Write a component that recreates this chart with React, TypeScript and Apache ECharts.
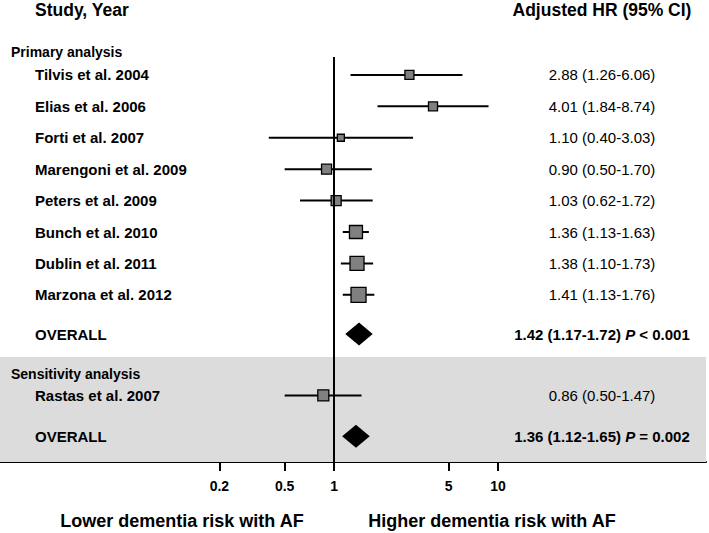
import React, { useEffect, useRef } from "react";
import * as echarts from "echarts";

// ---- data ----
const studies = [
  "Tilvis et al. 2004",
  "Elias et al. 2006",
  "Forti et al. 2007",
  "Marengoni et al. 2009",
  "Peters et al. 2009",
  "Bunch et al. 2010",
  "Dublin et al. 2011",
  "Marzona et al. 2012",
  "Rastas et al. 2007",
];
const studyRows = [0, 1, 2, 3, 4, 5, 6, 7, 10.2];
const hr = [2.88, 4.01, 1.1, 0.9, 1.03, 1.36, 1.38, 1.41, 0.86];
const ciLow = [1.26, 1.84, 0.4, 0.5, 0.62, 1.13, 1.1, 1.13, 0.5];
const ciHigh = [6.06, 8.74, 3.03, 1.7, 1.72, 1.63, 1.73, 1.76, 1.47];
const studyWeight = [9, 9, 7, 10, 10, 13, 14, 15, 11];

const pooledNames = ["OVERALL", "OVERALL"];
const pooledRows = [8.25, 11.5];
const pooledHr = [1.42, 1.36];
const pooledLow = [1.17, 1.12];
const pooledHigh = [1.72, 1.65];
const pooledP = ["< 0.001", "= 0.002"];

const sectionNames = ["Primary analysis", "Sensitivity analysis"];
const sectionRows = [-0.73, 9.53];
const shadeFromRow = 8.98;

const xTicks = [0.2, 0.5, 1, 5, 10];

const FONT = "'Liberation Sans', Arial, Helvetica, sans-serif";
const Y_MIN = -0.57;
const Y_MAX = 12.32;

const fmt = (v: number) => v.toFixed(2);

function txt(x: number, y: number, text: string, size: number, weight: string, align: string, rich?: any) {
  const style: any = {
    text,
    fill: "#000",
    fontFamily: FONT,
    fontSize: size,
    fontWeight: weight,
    align,
    textAlign: align,
    verticalAlign: "middle",
    textVerticalAlign: "middle",
  };
  if (rich) style.rich = rich;
  return { type: "text", x, y, style };
}

export default function App() {
  const ref = useRef<HTMLDivElement>(null);
  useEffect(() => {
    document.body.style.margin = "0";
    const chart = echarts.init(ref.current!, null, { renderer: "svg" });

    const richBold = {
      b: { fontFamily: FONT, fontSize: 15, fontWeight: "bold", fill: "#000" },
      i: { fontFamily: FONT, fontSize: 15, fontWeight: "bold", fontStyle: "italic", fill: "#000" },
    };

    const option: any = {
      animation: false,
      grid: { left: 0, right: 3, top: 57, bottom: 71 },
      xAxis: {
        type: "log",
        logBase: 10,
        min: 0.0092,
        max: 185,
        position: "bottom",
        axisLine: { show: true, onZero: false, lineStyle: { color: "#000", width: 2 } },
        axisTick: {
          show: true,
          customValues: xTicks,
          length: 9,
          lineStyle: { color: "#000", width: 2 },
        },
        axisLabel: {
          show: true,
          customValues: xTicks,
          fontFamily: FONT,
          fontSize: 14,
          fontWeight: "bold",
          color: "#000",
          margin: 17,
          formatter: (v: number) => String(Math.round(v * 100) / 100),
        },
        splitLine: { show: false },
        minorTick: { show: false },
      },
      yAxis: { type: "value", inverse: true, min: Y_MIN, max: Y_MAX, show: false },
      graphic: [
        txt(35, 10, "Study, Year", 17.5, "bold", "left"),
        txt(602, 10, "Adjusted HR (95% CI)", 17.5, "bold", "center"),
        txt(182, 521, "Lower dementia risk with AF", 18, "bold", "center"),
        txt(492, 521, "Higher dementia risk with AF", 18, "bold", "center"),
      ],
      series: [
        {
          type: "custom",
          name: "shade",
          z: 1,
          data: [[1, shadeFromRow]],
          renderItem: (params: any, api: any) => {
            const cs = params.coordSys;
            const top = api.coord([1, shadeFromRow])[1];
            const bottom = api.coord([1, Y_MAX])[1];
            return {
              type: "rect",
              shape: { x: cs.x, y: top, width: cs.width, height: bottom - top },
              style: { fill: "#dcdcdc" },
            };
          },
          markLine: {
            silent: true,
            symbol: "none",
            label: { show: false },
            lineStyle: { color: "#000", width: 2, type: "solid" },
            data: [{ xAxis: 1 }],
          },
        },
        {
          type: "custom",
          name: "studies",
          z: 3,
          data: studies.map((_, i) => [hr[i], studyRows[i]]),
          renderItem: (params: any, api: any) => {
            const i = params.dataIndex;
            const c = api.coord([hr[i], studyRows[i]]);
            const l = api.coord([ciLow[i], studyRows[i]]);
            const h = api.coord([ciHigh[i], studyRows[i]]);
            const s = studyWeight[i];
            return {
              type: "group",
              children: [
                {
                  type: "line",
                  shape: { x1: l[0], y1: l[1], x2: h[0], y2: h[1] },
                  style: { stroke: "#000", lineWidth: 2 },
                },
                {
                  type: "rect",
                  shape: { x: c[0] - s / 2, y: c[1] - s / 2, width: s, height: s },
                  style: { fill: "#808080", stroke: "#000", lineWidth: 1.3 },
                },
              ],
            };
          },
        },
        {
          type: "custom",
          name: "pooled",
          z: 3,
          data: pooledHr.map((v, i) => [v, pooledRows[i]]),
          renderItem: (params: any, api: any) => {
            const i = params.dataIndex;
            const c = api.coord([pooledHr[i], pooledRows[i]]);
            const l = api.coord([pooledLow[i], pooledRows[i]]);
            const h = api.coord([pooledHigh[i], pooledRows[i]]);
            const hh = 11.5;
            return {
              type: "polygon",
              shape: {
                points: [
                  [l[0], l[1]],
                  [c[0], c[1] - hh],
                  [h[0], h[1]],
                  [c[0], c[1] + hh],
                ],
              },
              style: { fill: "#000" },
            };
          },
        },
        {
          type: "custom",
          name: "labels",
          z: 4,
          data: [[1, 0]],
          renderItem: (params: any, api: any) => {
            const children: any[] = [];
            sectionNames.forEach((n, i) => {
              const y = api.coord([1, sectionRows[i]])[1];
              children.push(txt(11, y, n, 14, "bold", "left"));
            });
            studies.forEach((n, i) => {
              const y = api.coord([1, studyRows[i]])[1];
              children.push(txt(35, y, n, 15, "bold", "left"));
              children.push(
                txt(602, y, `${fmt(hr[i])} (${fmt(ciLow[i])}-${fmt(ciHigh[i])})`, 15, "normal", "center")
              );
            });
            pooledNames.forEach((n, i) => {
              const y = api.coord([1, pooledRows[i]])[1];
              children.push(txt(35, y, n, 15, "bold", "left"));
              children.push(
                txt(
                  602,
                  y,
                  `{b|${fmt(pooledHr[i])} (${fmt(pooledLow[i])}-${fmt(pooledHigh[i])}) }{i|P}{b| ${pooledP[i]}}`,
                  15,
                  "bold",
                  "center",
                  richBold
                )
              );
            });
            return { type: "group", children };
          },
        },
      ],
    };
    chart.setOption(option);
    return () => chart.dispose();
  }, []);
  return <div ref={ref} style={{ width: 709, height: 533 }} />;
}
